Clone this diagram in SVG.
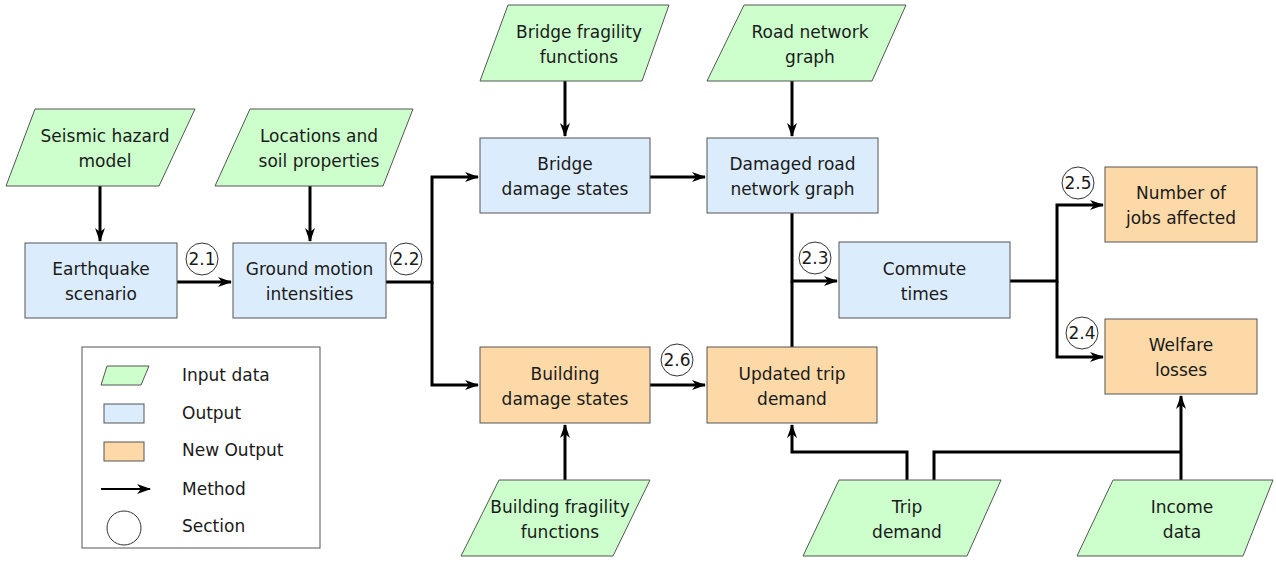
<svg xmlns="http://www.w3.org/2000/svg" width="1276" height="562" viewBox="0 0 1276 562">
<style>
.in{fill:#ccffcc;stroke:#555;stroke-width:1}
.out{fill:#dbecfc;stroke:#555;stroke-width:1}
.new{fill:#fdd9a8;stroke:#555;stroke-width:1}
.sec{fill:#fff;stroke:#333;stroke-width:1}
text{font-family:"DejaVu Sans",Verdana,sans-serif;font-size:17px;fill:#1a1a1a;text-anchor:middle}
.lg{text-anchor:start}
.c{fill:none;stroke:#000;stroke-width:3}
.ca{fill:none;stroke:#000;stroke-width:3;marker-end:url(#ah)}
</style>
<defs>
<marker id="ah" markerUnits="userSpaceOnUse" markerWidth="16" markerHeight="12" refX="13" refY="5" orient="auto" viewBox="0 0 16 12">
<path d="M0,0 L14,5 L0,10 L4,5 Z" fill="#000"/>
</marker>
</defs>
<rect width="1276" height="562" fill="#fff"/>
<g id="connectors">
<path class="ca" d="M100,186 V241"/>
<path class="ca" d="M310,186 V241"/>
<path class="ca" d="M177,282 H231"/>
<path class="ca" d="M386,282 H432 V177 H478"/>
<path class="ca" d="M432,282 V385 H478"/>
<path class="ca" d="M565,81 V136"/>
<path class="ca" d="M792,81 V136"/>
<path class="ca" d="M650,177 H705"/>
<path class="ca" d="M650,385 H705"/>
<path class="ca" d="M565,480 V425"/>
<path class="ca" d="M792,213 V281 H837"/>
<path class="c" d="M792,347 V281"/>
<path class="ca" d="M1010,281 H1057 V205 H1103"/>
<path class="ca" d="M1057,281 V357 H1103"/>
<path class="ca" d="M907,480 V452 H792 V425"/>
<path class="c" d="M934,480 V452 H1181"/>
<path class="ca" d="M1181,480 V396"/>
</g>
<g id="seismic"><polygon class="in" points="35,109 195,109 159,186 6,186"/><text x="105" y="142">Seismic hazard</text><text x="105" y="167">model</text></g>
<g id="locations"><polygon class="in" points="250,109 413,109 383,186 215,186"/><text x="319" y="142">Locations and</text><text x="319" y="167">soil properties</text></g>
<g id="earthquake"><rect class="out" x="25" y="243" width="152" height="75"/><text x="101" y="275">Earthquake</text><text x="101" y="300">scenario</text></g>
<g id="ground"><rect class="out" x="233" y="243" width="153" height="75"/><text x="309.5" y="275">Ground motion</text><text x="309.5" y="300">intensities</text></g>
<g id="bridgefrag"><polygon class="in" points="508,5 669,5 642,81 480,81"/><text x="579" y="37.5">Bridge fragility</text><text x="579" y="62.5">functions</text></g>
<g id="roadnet"><polygon class="in" points="744,5 906,5 872,81 707,81"/><text x="810" y="37.5">Road network</text><text x="810" y="62.5">graph</text></g>
<g id="bridgedmg"><rect class="out" x="480" y="138" width="170" height="75"/><text x="565" y="170">Bridge</text><text x="565" y="195">damage states</text></g>
<g id="damagedroad"><rect class="out" x="707" y="138" width="171" height="75"/><text x="792.5" y="170">Damaged road</text><text x="792.5" y="195">network graph</text></g>
<g id="commute"><rect class="out" x="839" y="242" width="171" height="76"/><text x="924.5" y="274.5">Commute</text><text x="924.5" y="299.5">times</text></g>
<g id="jobs"><rect class="new" x="1105" y="167" width="152" height="75"/><text x="1181" y="199">Number of</text><text x="1181" y="224">jobs affected</text></g>
<g id="welfare"><rect class="new" x="1105" y="319" width="152" height="75"/><text x="1181" y="351">Welfare</text><text x="1181" y="376">losses</text></g>
<g id="buildingdmg"><rect class="new" x="480" y="347" width="170" height="76"/><text x="565" y="379.5">Building</text><text x="565" y="404.5">damage states</text></g>
<g id="updatedtrip"><rect class="new" x="707" y="347" width="170" height="76"/><text x="792" y="379.5">Updated trip</text><text x="792" y="404.5">demand</text></g>
<g id="buildingfrag"><polygon class="in" points="499,480 650,480 613,556 461,556"/><text x="560" y="512.5">Building fragility</text><text x="560" y="537.5">functions</text></g>
<g id="tripdemand"><polygon class="in" points="839,480 1001,480 967,556 803,556"/><text x="907" y="512.5">Trip</text><text x="907" y="537.5">demand</text></g>
<g id="income"><polygon class="in" points="1113,480 1273,480 1243,556 1077,556"/><text x="1182" y="512.5">Income</text><text x="1182" y="537.5">data</text></g>
<g id="sections">
<circle class="sec" cx="202" cy="259" r="16"/><text x="202" y="265">2.1</text>
<circle class="sec" cx="406" cy="259" r="16"/><text x="406" y="265">2.2</text>
<circle class="sec" cx="815" cy="258" r="16"/><text x="815" y="264">2.3</text>
<circle class="sec" cx="1078" cy="183" r="16"/><text x="1078" y="189">2.5</text>
<circle class="sec" cx="1082" cy="333" r="16"/><text x="1082" y="339">2.4</text>
<circle class="sec" cx="677" cy="360" r="16"/><text x="677" y="366">2.6</text>
</g>
<g id="legend">
<rect x="82" y="347" width="238" height="201" fill="#fff" stroke="#555" stroke-width="1"/>
<polygon class="in" points="107,366 149,366 141,385 101,385"/>
<rect class="out" x="104" y="404" width="40" height="19"/>
<rect class="new" x="104" y="442" width="40" height="19"/>
<path d="M101,489 H150" stroke="#000" stroke-width="2" fill="none" marker-end="url(#ah)"/>
<circle class="sec" cx="124" cy="528" r="17"/>
<text class="lg" x="182" y="381">Input data</text>
<text class="lg" x="182" y="419">Output</text>
<text class="lg" x="182" y="456">New Output</text>
<text class="lg" x="182" y="495">Method</text>
<text class="lg" x="182" y="532">Section</text>
</g>
</svg>
